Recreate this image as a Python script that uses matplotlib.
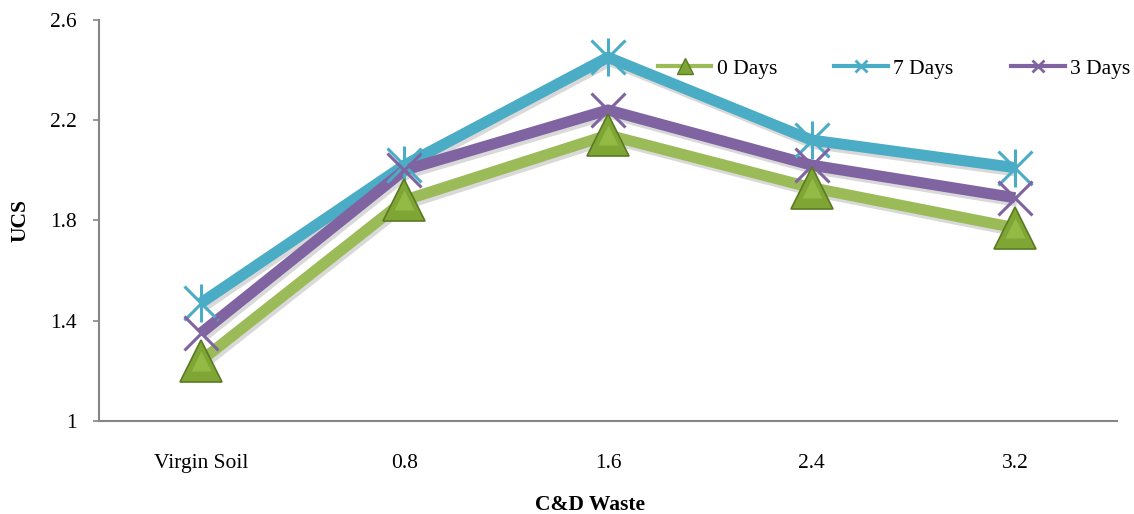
import matplotlib
matplotlib.use("Agg")
import matplotlib.pyplot as plt
import matplotlib.patheffects as pe

# data
categories = ["Virgin Soil", "0.8", "1.6", "2.4", "3.2"]
ucs_0_days = [1.24, 1.88, 2.14, 1.93, 1.77]
ucs_7_days = [1.47, 2.02, 2.45, 2.12, 2.01]
ucs_3_days = [1.35, 2.00, 2.24, 2.02, 1.89]
y_ticks = [1.0, 1.4, 1.8, 2.2, 2.6]
y_tick_labels = ["1", "1.4", "1.8", "2.2", "2.6"]

GREEN = "#9BBB59"
CYAN = "#4BACC6"
PURPLE = "#8064A2"
AXIS_GREY = "#868686"
FS = 15.5

plt.rcParams["font.family"] = ["Liberation Serif", "DejaVu Serif"]

fig = plt.figure(figsize=(11.34, 5.14), dpi=100)
ax = fig.add_axes([0.0873, 0.181, 0.8977, 0.7807])
x = list(range(len(categories)))

shadow = [pe.SimpleLineShadow(offset=(1.5, -2.5), alpha=0.15), pe.Normal()]

# thick lines first
ax.plot(x, ucs_0_days, color=GREEN, lw=8, solid_capstyle="butt", path_effects=shadow, zorder=2)
ax.plot(x, ucs_7_days, color=CYAN, lw=8, solid_capstyle="butt", path_effects=shadow, zorder=2)
ax.plot(x, ucs_3_days, color=PURPLE, lw=8, solid_capstyle="butt", path_effects=shadow, zorder=2)

# markers on top
ax.plot(x, ucs_7_days, ls="none", marker="x", ms=25, mew=2.2, color=CYAN, zorder=3)
ax.plot(x, ucs_7_days, ls="none", marker="|", ms=27, mew=2.2, color=CYAN, zorder=3)
ax.plot(x, ucs_3_days, ls="none", marker="x", ms=25, mew=2.2, color=PURPLE, zorder=3)
ax.plot(x, ucs_0_days, ls="none", marker="^", ms=30, mfc="#7FA535", mec="#5A7A22", mew=1.2, zorder=4)
ax.plot(x, ucs_0_days, ls="none", marker="^", ms=14, mfc="#93BA45", mec="none", zorder=5)

# legend handles
h0, = ax.plot([], [], color=GREEN, lw=3, marker="^", ms=11, mfc="#7FA535", mec="#5A7A22")
h7, = ax.plot([], [], color=CYAN, lw=3, marker="x", ms=8, mew=2)
h3, = ax.plot([], [], color=PURPLE, lw=3, marker="x", ms=8, mew=2)
ax.legend([h0, h7, h3], ["0 Days", "7 Days", "3 Days"], ncol=3, frameon=False,
          loc="center right", bbox_to_anchor=(1.013, 0.878), fontsize=FS,
          handlelength=2.5, handletextpad=0.25, columnspacing=2.65,
          borderaxespad=0, borderpad=0)

ax.set_xlim(-0.5, len(categories) - 0.5)
ax.set_ylim(1.0, 2.6)
ax.set_xticks(x)
ax.set_xticklabels(categories, fontsize=FS)
ax.set_yticks(y_ticks)
ax.set_yticklabels(y_tick_labels, fontsize=FS)
ax.tick_params(axis="x", length=0, pad=24)
ax.tick_params(axis="y", length=4, width=1.2, color=AXIS_GREY, pad=12)

for side in ("top", "right"):
    ax.spines[side].set_visible(False)
for side in ("left", "bottom"):
    ax.spines[side].set_color(AXIS_GREY)
    ax.spines[side].set_linewidth(1.5)

ax.set_ylabel("UCS", fontsize=FS, fontweight="bold")
ax.yaxis.set_label_coords(-0.067, 0.5)
ax.set_xlabel("C&D Waste", fontsize=FS, fontweight="bold")
ax.xaxis.set_label_coords(0.482, -0.185)

fig.savefig("out.png", dpi=100)
